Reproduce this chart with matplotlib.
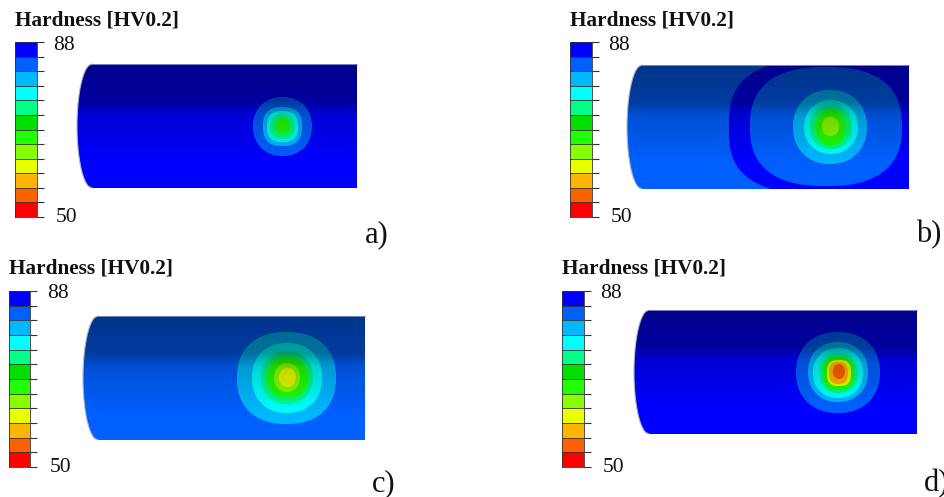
import numpy as np
import matplotlib
matplotlib.use("Agg")
import matplotlib.pyplot as plt

W, H = 944, 497
SS = 3

# legend
legend_colors = ["#0000ff", "#0060ff", "#00b8ff", "#00ffff", "#00ff88", "#00e000",
                 "#22ff00", "#88ff00", "#e8ff00", "#ffb400", "#ff6000", "#ff0000"]
legend_title = "Hardness [HV0.2]"
hv_top, hv_bottom = 88, 50

# panel labels and legend boxes: left, top, bottom
panel_names = ["a)", "b)", "c)", "d)"]
legend_boxes = [(14.5, 42, 217), (569.5, 42, 217), (8.5, 291, 467), (561.5, 291, 467)]
name_positions = [(365, 242), (916, 242), (372, 491), (924, 491)]

# cylinder: arc x, top-left x, right x, top y, bottom y
cylinders = [(77, 92, 357, 64, 188), (627, 642, 909, 65, 189),
             (83, 98, 365, 316, 440), (634, 649, 917, 310, 434)]
base_index = [0, 1, 1, 0]

# contour zones: colour index, left, right, top, bottom, exponent
zones_a = [(1, 253, 312, 97, 156, 2.15), (2, 263, 302, 107, 146, 2.6),
           (3, 267, 298, 111, 142, 2.6), (4, 270, 295, 114, 139, 2.4), (6, 275, 290, 118, 134, 2.0)]
zones_b = [(0, 729, 1000, 56, 198, 3.0), (1, 750, 902, 67, 186, 2.5), (2, 793, 867, 90, 164, 2.15),
           (3, 804, 858, 100, 154, 2.1), (4, 810, 852, 105, 149, 2.2), (6, 816, 846, 110, 145, 2.2),
           (7, 822, 839, 117, 136, 2.2)]
zones_c = [(2, 237, 336, 332, 424, 2.3), (3, 252, 322, 343, 413, 2.2), (4, 261, 313, 351, 404, 2.15),
           (6, 267, 308, 357, 398, 2.15), (7, 274, 300, 363, 392, 2.1), (8, 279, 296, 368, 387, 2.0)]
zones_d = [(1, 796, 880, 332, 413, 2.2), (2, 808, 868, 342, 402, 2.15), (3, 813, 863, 348, 398, 2.15),
           (4, 819, 858, 353, 393, 2.2), (6, 823, 854, 357, 390, 2.5), (8, 827, 851, 360, 386, 2.8),
           (9, 829, 848, 362, 384, 2.6), (10, 833, 845, 364, 379, 2.1)]
panel_zones = [zones_a, zones_b, zones_c, zones_d]

# vertical shading of the cylinder: fraction of height, brightness
shade_pos = [0.0, 0.30, 0.36, 0.42, 0.80, 1.0]
shade_val = [0.55, 0.62, 0.74, 0.84, 1.0, 1.0]

plt.rcParams["font.family"] = ["Liberation Serif", "DejaVu Serif"]
fig = plt.figure(figsize=(W / 100, H / 100), dpi=100, facecolor="white")
ax = fig.add_axes([0, 0, 1, 1])
ax.set_xlim(0, W)
ax.set_ylim(H, 0)
ax.axis("off")
rgb = np.array([matplotlib.colors.to_rgb(c) for c in legend_colors])


def draw_cylinder(cyl, base, zones):
    xa, xt, xr, yt, yb = cyl
    x0, x1 = int(xa) - 2, int(xr) + 2
    y0, y1 = int(yt) - 2, int(yb) + 2
    xs = (np.arange((x1 - x0) * SS) + 0.5) / SS + x0
    ys = (np.arange((y1 - y0) * SS) + 0.5) / SS + y0
    X, Y = np.meshgrid(xs, ys)
    ym, ry = (yt + yb) / 2, (yb - yt) / 2
    idx = np.full(X.shape, base)
    for ci, l, r, t, b, n in zones:
        cx, cy = (l + r) / 2, (t + b) / 2
        mask = (np.abs(X - cx) / ((r - l) / 2)) ** n + (np.abs(Y - cy) / ((b - t) / 2)) ** n <= 1
        idx[mask] = ci
    shade = np.interp((Y - yt) / (yb - yt), shade_pos, shade_val)
    img = rgb[idx] * shade[..., None]
    u = np.clip((Y - ym) / ry, -1, 1)
    left = xt - (xt - xa) * np.sqrt(1 - u ** 2)
    alpha = ((X >= left) & (X <= xr) & (Y >= yt) & (Y <= yb)).astype(float)
    rgba = np.dstack([img, alpha])
    # average down to single pixels, weighting colour by coverage
    h, w = rgba.shape[:2]
    rgba = rgba.reshape(h // SS, SS, w // SS, SS, 4)
    a = rgba[..., 3].mean(axis=(1, 3))
    c = (rgba[..., :3] * rgba[..., 3:]).mean(axis=(1, 3)) / np.maximum(a, 1e-6)[..., None]
    ax.imshow(np.dstack([c, a]), extent=(x0, x1, y1, y0), interpolation="nearest", aspect="auto", zorder=2)
    ax.set_xlim(0, W)
    ax.set_ylim(H, 0)
    # thin edges
    tt = np.linspace(-1, 1, 80)
    ax.plot(xt - (xt - xa) * np.sqrt(1 - tt ** 2), ym + ry * tt, color="#b4b8c0", lw=0.8, zorder=3)
    ax.plot([xt, xr], [yt, yt], color="#8f96c8", lw=0.6, zorder=3)


def draw_legend(box):
    xl, yt, yb = box
    lax = fig.add_axes([xl / W, 1 - yb / H, 22 / W, (yb - yt) / H], zorder=4)
    n = len(legend_colors)
    levels = np.linspace(hv_bottom, hv_top, n + 1)
    for i, c in enumerate(legend_colors):
        lax.barh(levels[n - i - 1], 1, height=levels[1] - levels[0], left=0, align="edge", color=c, lw=0)
    lax.set_xlim(0, 1)
    lax.set_ylim(hv_bottom, hv_top)
    lax.set_xticks([])
    lax.set_yticks(levels)
    lax.yaxis.tick_right()
    lax.set_yticklabels([])
    lax.tick_params(axis="y", length=5, width=0.8, color="#333333", direction="out", pad=0)
    for s in lax.spines.values():
        s.set_linewidth(0.6)
        s.set_color("#333333")
    for lvl in levels[1:-1]:
        lax.axhline(lvl, color="#333333", lw=0.6)
    bar_h = yb - yt
    lax.text(38.5 / 22, 1.0 - 3 / bar_h, str(hv_top), transform=lax.transAxes, fontsize=15.5, va="center", ha="left", color="#111111", clip_on=False)
    lax.text(41.5 / 22, 0.0 - 1 / bar_h, str(hv_bottom), transform=lax.transAxes, fontsize=15.5, va="center", ha="left", color="#111111", clip_on=False)
    ax.text(xl + 0.5, yt - 17, legend_title, fontsize=15.3, fontweight="bold", va="baseline", ha="left", color="#111111", zorder=5)


for i in range(4):
    draw_cylinder(cylinders[i], base_index[i], panel_zones[i])
    draw_legend(legend_boxes[i])
    ax.text(*name_positions[i], panel_names[i], fontsize=22, va="baseline", ha="left", color="#111111", zorder=5)

fig.savefig("out.png", dpi=100, facecolor="white")
